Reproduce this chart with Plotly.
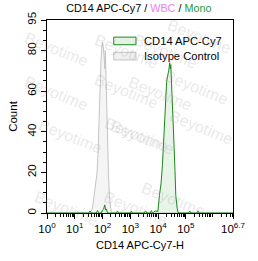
import numpy as np
import plotly.graph_objects as go

# ---- data (log10 fluorescence position, counts) ----
iso_log = [0.0, 1.05, 1.10, 1.15, 1.50, 1.546, 1.636, 1.713, 1.77, 1.80, 1.837, 1.88, 1.914,
           1.947, 1.99, 2.024, 2.058, 2.08, 2.10, 2.14, 2.17, 2.214, 2.248, 2.29, 2.348, 2.40, 6.7]
iso_cnt = [0, 0, 0.6, 0, 0, 0, 2.3, 10, 15, 19.5, 29, 47.5, 63,
           75.6, 84, 82, 77, 71, 80, 55, 36.6, 19.5, 8.6, 2.3, 0, 0, 0]

cd14_log = [0.0, 1.50, 1.55, 1.60, 1.78, 1.82, 1.86, 1.96, 2.00, 2.04, 2.08, 2.11, 2.14, 2.18,
            2.50, 2.54, 2.58, 3.00, 3.04, 3.08, 3.50, 3.55, 3.60, 3.72, 3.76, 3.80, 3.90,
            3.995, 4.05, 4.11, 4.16, 4.195, 4.24, 4.275, 4.31, 4.35, 4.385, 4.42, 4.44,
            4.46, 4.50, 4.53, 4.575, 4.61, 4.64, 4.69, 4.73, 4.80, 5.10, 5.14, 5.18,
            5.40, 5.44, 5.48, 6.7]
cd14_cnt = [0, 0, 1, 0, 0, 1.2, 0, 0, 1.5, 2, 4, 1.5, 2, 0,
            0, 1, 0, 0, 1, 0, 0, 1, 0, 0, 1.2, 0, 1,
            0.8, 8.6, 14.8, 24, 33.5, 47.5, 57, 64.7, 67.8, 70, 74, 71,
            73, 61.6, 47.5, 33.5, 21, 8.6, 2.3, 0, 0, 0, 1, 0,
            0, 1, 0, 0]

x_ticks = [0, 1, 2, 3, 4, 5, 6.7]
x_tick_text = ["10<sup>0</sup>", "10<sup>1</sup>", "10<sup>2</sup>", "10<sup>3</sup>",
               "10<sup>4</sup>", "10<sup>5</sup>", "10<sup>6.7</sup>"]
y_ticks = [0, 20, 40, 60, 80, 95]

FONT = "Arial, Liberation Sans, sans-serif"

iso_x = [10 ** v for v in iso_log]
cd14_x = [10 ** v for v in cd14_log]

fig = go.Figure()
fig.add_trace(go.Scatter(x=iso_x, y=iso_cnt, mode="lines", fill="tozeroy",
                         line=dict(color="#c4c4c4", width=1),
                         fillcolor="rgba(225,225,225,0.35)", showlegend=False))
fig.add_trace(go.Scatter(x=cd14_x, y=cd14_cnt, mode="lines", fill="tozeroy",
                         line=dict(color="#1a8a1a", width=1),
                         fillcolor="rgba(30,150,30,0.10)", showlegend=False))

minor_x = [k * 10 ** d for d in range(0, 7) for k in range(2, 10) if k * 10 ** d < 10 ** 6.7]
minor_y = [v for v in range(5, 95, 5) if v % 20 != 0]

fig.update_xaxes(type="log", range=[0, 6.7], tickmode="array",
                 tickvals=[10 ** v for v in x_ticks], ticktext=x_tick_text,
                 ticks="outside", ticklen=5, tickcolor="black", showgrid=False,
                 zeroline=False, showline=True, linecolor="black", linewidth=1, mirror=True,
                 minor=dict(tickmode="array", tickvals=minor_x, ticks="outside", ticklen=3,
                            tickcolor="black", showgrid=False),
                 tickfont=dict(size=11.5, color="black", family=FONT),
                 title=dict(text="CD14 APC-Cy7-H", font=dict(size=11, color="black", family=FONT),
                            standoff=7))
fig.update_yaxes(range=[0, 95], tickmode="array", tickvals=y_ticks, tickangle=-90,
                 ticks="outside", ticklen=5, tickcolor="black", showgrid=False,
                 zeroline=False, showline=True, linecolor="black", linewidth=1, mirror=True,
                 minor=dict(tickmode="array", tickvals=minor_y, ticks="outside", ticklen=3,
                            tickcolor="black", showgrid=False),
                 tickfont=dict(size=11.5, color="black", family=FONT),
                 title=dict(text="Count", font=dict(size=11.5, color="black", family=FONT),
                            standoff=6))

# manual legend
legend_items = [("CD14 APC-Cy7", "#1a8a1a", "rgba(30,150,30,0.12)"),
                ("Isotype Control", "#c4c4c4", "rgba(225,225,225,0.5)")]
for i, (name, lc, fc) in enumerate(legend_items):
    yc = 1 - (22 + 16 * i) / 203
    fig.add_shape(type="rect", xref="paper", yref="paper",
                  x0=(116 - 44) / 200.6, x1=(140 - 44) / 200.6,
                  y0=yc - 4 / 203, y1=yc + 4 / 203,
                  line=dict(color=lc, width=1), fillcolor=fc)
    fig.add_annotation(text=name, xref="paper", yref="paper", x=(146 - 44) / 200.6, y=yc,
                       xanchor="left", yanchor="middle", showarrow=False,
                       font=dict(size=11.2, color="black", family=FONT))

# watermark (background decoration)
wm = [(15, 22), (90, 24), (172, 24), (248, 8), (15, 92), (90, 90), (166, 92), (245, 86),
      (30, 162), (107, 163), (180, 160), (250, 152), (25, 237), (100, 238), (220, 228)]
for (px, py) in wm:
    fig.add_annotation(text="Beyotime", xref="paper", yref="paper",
                       x=(px - 44) / 200.6, y=1 - (py - 15) / 203, showarrow=False,
                       textangle=22, font=dict(size=16, color="rgba(150,150,150,0.22)",
                                               family=FONT))

fig.update_layout(
    width=258, height=261,
    margin=dict(l=44, r=14, t=15, b=43),
    paper_bgcolor="white", plot_bgcolor="white",
    font=dict(family=FONT, color="black"),
    title=dict(text="CD14 APC-Cy7 / <span style='color:#ee82ee'>WBC</span> / "
                    "<span style='color:#1f9a3a'>Mono</span>",
               x=(143 - 44) / 200.6, xref="paper", xanchor="center",
               y=1 - 8 / 261, yref="container", yanchor="middle",
               font=dict(size=10.8, color="black", family=FONT)),
    showlegend=False,
)

fig.write_html("out.html")
